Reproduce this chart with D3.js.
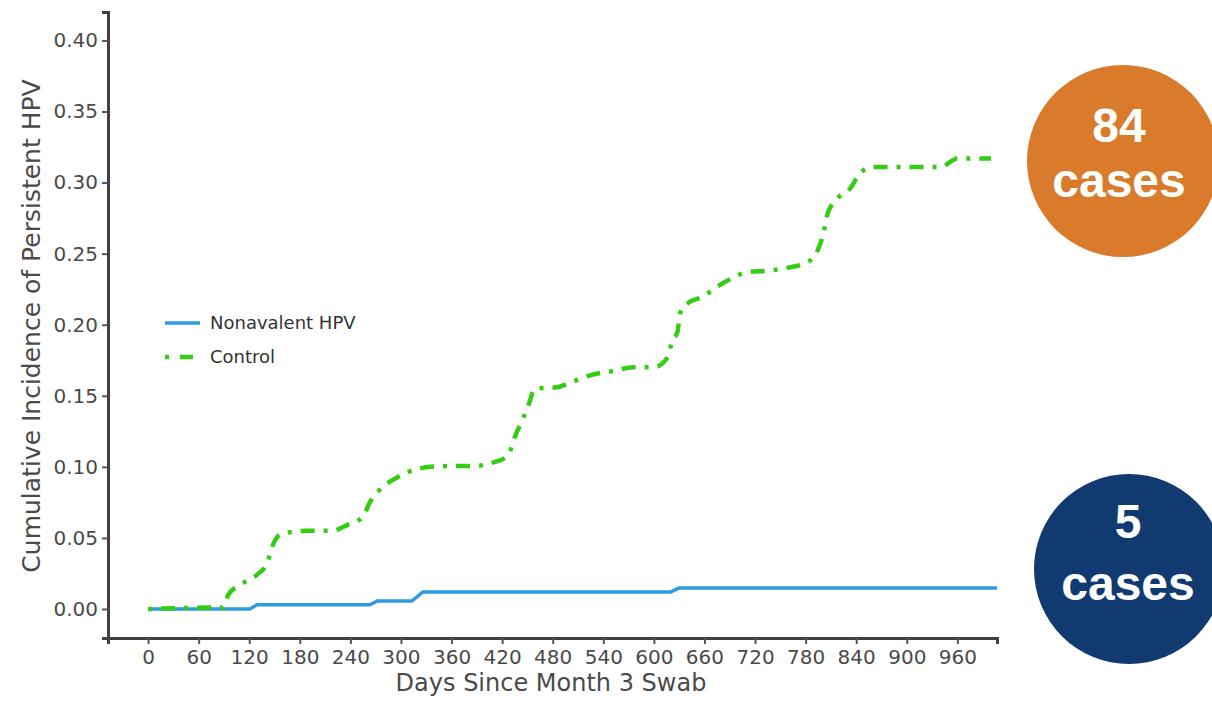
<!DOCTYPE html>
<html>
<head>
<meta charset="utf-8">
<script src="https://cdn.jsdelivr.net/npm/d3@7"></script>
<style>
  html, body { margin: 0; padding: 0; background: #fff; }
  svg { display: block; }
</style>
</head>
<body>
<div id="chart"></div>
<script>
// Cumulative incidence of persistent HPV, nonavalent vs control
const xTicks = [0, 60, 120, 180, 240, 300, 360, 420, 480, 540, 600, 660, 720, 780, 840, 900, 960];
const yTicks = [0.00, 0.05, 0.10, 0.15, 0.20, 0.25, 0.30, 0.35, 0.40];

const seriesNames = ["Nonavalent HPV", "Control"];

// Nonavalent HPV (step curve)
const nonaDays = [0, 121, 129, 263, 272, 313, 326, 620, 630, 1007];
const nonaInc  = [0, 0, 0.003, 0.003, 0.0056, 0.0056, 0.012, 0.012, 0.0148, 0.0148];

// Control
const ctrlDays = [0, 82, 89, 95, 109, 129, 141, 148, 159, 189, 219, 236, 255, 263, 275, 291, 307, 335,
                  362, 386, 409, 427, 435, 444, 451, 459, 485, 504, 528, 548, 576, 600, 616, 622, 628,
                  631, 640, 655, 687, 711, 735, 758, 782, 794, 801, 806, 818, 833, 845, 860, 892, 940,
                  960, 1000];
const ctrlInc  = [0, 0.001, 0.001, 0.010, 0.017, 0.024, 0.032, 0.045, 0.053, 0.055, 0.055, 0.059, 0.065,
                  0.075, 0.084, 0.091, 0.096, 0.100, 0.1006, 0.1006, 0.103, 0.108, 0.121, 0.133, 0.143,
                  0.155, 0.156, 0.160, 0.165, 0.167, 0.170, 0.170, 0.177, 0.189, 0.195, 0.208, 0.215,
                  0.219, 0.231, 0.237, 0.238, 0.240, 0.244, 0.252, 0.264, 0.278, 0.289, 0.296, 0.307,
                  0.311, 0.311, 0.311, 0.317, 0.317];

const caseLabels = ["84", "5"];

const W = 1212, H = 702;
const FONT = "'DejaVu Sans', sans-serif";
const TXT = "#4a4a4a";
const BLUE = "#2e9be0", GREEN = "#35cc14";

const svg = d3.select("#chart").append("svg").attr("width", W).attr("height", H);

const x = d3.scaleLinear().domain([-47.5, 1007]).range([108, 997]);
const y = d3.scaleLinear().domain([-0.0204, 0.42]).range([638, 12]);

// axes
const gy = svg.append("g")
  .attr("transform", "translate(108,0)")
  .call(d3.axisLeft(y).tickValues(yTicks).tickFormat(d3.format(".2f")).tickSize(6).tickPadding(4));
gy.select(".domain").attr("stroke", "#404040").attr("stroke-width", 3);
gy.selectAll(".tick line").attr("stroke", "#555").attr("stroke-width", 2);
gy.selectAll("text").attr("font-family", FONT).attr("font-size", 20).attr("fill", TXT);

const gx = svg.append("g")
  .attr("transform", "translate(0,638)")
  .call(d3.axisBottom(x).tickValues(xTicks).tickSize(6).tickPadding(6));
gx.select(".domain").attr("stroke", "#404040").attr("stroke-width", 3);
gx.selectAll(".tick line").attr("stroke", "#555").attr("stroke-width", 2);
gx.selectAll("text").attr("font-family", FONT).attr("font-size", 20).attr("fill", TXT);

// axis titles
svg.append("text")
  .attr("x", 551).attr("y", 691)
  .attr("text-anchor", "middle")
  .attr("font-family", FONT).attr("font-size", 24).attr("fill", TXT)
  .text("Days Since Month 3 Swab");

svg.append("text")
  .attr("transform", "translate(40,326) rotate(-90)")
  .attr("text-anchor", "middle")
  .attr("font-family", FONT).attr("font-size", 25).attr("fill", TXT)
  .text("Cumulative Incidence of Persistent HPV");

// lines
const line = d3.line().x(d => x(d[0])).y(d => y(d[1]));
const lineSmooth = d3.line().x(d => x(d[0])).y(d => y(d[1])).curve(d3.curveMonotoneX);

svg.append("path")
  .datum(d3.zip(nonaDays, nonaInc))
  .attr("d", line)
  .attr("fill", "none").attr("stroke", BLUE).attr("stroke-width", 3.5);

svg.append("path")
  .datum(d3.zip(ctrlDays, ctrlInc))
  .attr("d", lineSmooth)
  .attr("fill", "none").attr("stroke", GREEN).attr("stroke-width", 4.5)
  .attr("stroke-dasharray", "4,9,14,9");

// legend
const legend = svg.append("g").attr("font-family", FONT).attr("font-size", 18).attr("fill", "#333");
legend.append("line").attr("x1", 165).attr("x2", 200).attr("y1", 323).attr("y2", 323)
  .attr("stroke", BLUE).attr("stroke-width", 3.5);
legend.append("line").attr("x1", 165).attr("x2", 200).attr("y1", 357).attr("y2", 357)
  .attr("stroke", GREEN).attr("stroke-width", 4.5).attr("stroke-dasharray", "4,11,13,9");
legend.append("text").attr("x", 210).attr("y", 323).attr("dy", "0.35em").text(seriesNames[0]);
legend.append("text").attr("x", 210).attr("y", 357).attr("dy", "0.35em").text(seriesNames[1]);

// case bubbles
const bubbles = [
  { cx: 1123, cy: 161, r: 96, fill: "#d97b2b", tx: 1119, y1: 142, y2: 197, label: caseLabels[0] },
  { cx: 1129, cy: 569, r: 95, fill: "#103a70", tx: 1128, y1: 538, y2: 600, label: caseLabels[1] }
];
bubbles.forEach(b => {
  svg.append("circle").attr("cx", b.cx).attr("cy", b.cy).attr("r", b.r).attr("fill", b.fill);
  svg.append("text").attr("x", b.tx).attr("y", b.y1).attr("text-anchor", "middle")
    .attr("font-family", "'Liberation Sans', Arial, sans-serif").attr("font-weight", "bold")
    .attr("font-size", 48).attr("fill", "#fff").text(b.label);
  svg.append("text").attr("x", b.tx).attr("y", b.y2).attr("text-anchor", "middle")
    .attr("font-family", "'Liberation Sans', Arial, sans-serif").attr("font-weight", "bold")
    .attr("font-size", 48).attr("fill", "#fff").text("cases");
});
</script>
</body>
</html>
